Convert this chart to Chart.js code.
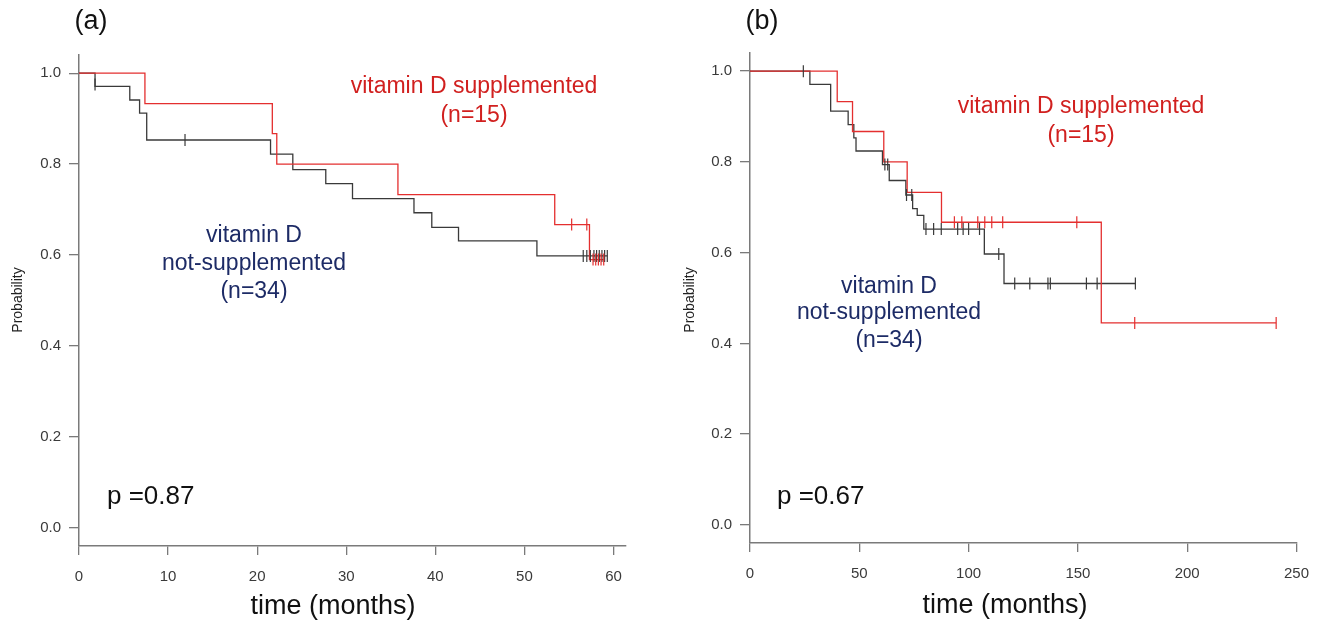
<!DOCTYPE html>
<html>
<head>
<meta charset="utf-8">
<script src="https://cdn.jsdelivr.net/npm/chart.js@4/dist/chart.umd.min.js"></script>
<style>
  html, body { margin: 0; padding: 0; background: #ffffff; }
  body { width: 1322px; height: 626px; position: relative; overflow: hidden; }
  .panel { position: absolute; top: 0; width: 661px; height: 626px; }
  #wrapA { left: 0; }
  #wrapB { left: 661px; }
</style>
</head>
<body>
<div class="panel" id="wrapA"><canvas id="chartA" width="661" height="626"></canvas></div>
<div class="panel" id="wrapB"><canvas id="chartB" width="661" height="626"></canvas></div>
<script>
// ---------- Panel (a) data ----------
const xTicksA = [0, 10, 20, 30, 40, 50, 60];
const yTicks = [0.0, 0.2, 0.4, 0.6, 0.8, 1.0];

const suppTimeA = [0, 7.4, 21.7, 22.2, 35.8, 53.4, 57.3, 58.9];
const suppProbA = [1.0, 0.933, 0.867, 0.800, 0.733, 0.667, 0.590, 0.590];
const suppCensTimeA = [55.3, 57.0, 57.7, 58.0, 58.3, 58.6, 58.9];
const suppCensProbA = [0.667, 0.667, 0.590, 0.590, 0.590, 0.590, 0.590];

const notTimeA = [0, 1.8, 5.7, 6.8, 7.6, 21.5, 24.0, 27.7, 30.7, 37.6, 39.6, 42.6, 51.4, 59.3];
const notProbA = [1.0, 0.971, 0.941, 0.912, 0.853, 0.822, 0.788, 0.757, 0.724, 0.693, 0.661, 0.631, 0.598, 0.598];
const notCensTimeA = [1.8, 11.9, 56.6, 57.0, 57.4, 57.8, 58.1, 58.4, 58.7, 59.0, 59.3];
const notCensProbA = [0.975, 0.853, 0.598, 0.598, 0.598, 0.598, 0.598, 0.598, 0.598, 0.598, 0.598];

// ---------- Panel (b) data ----------
const xTicksB = [0, 50, 100, 150, 200, 250];

const suppTimeB = [0, 39.9, 46.9, 61.2, 71.9, 87.6, 160.7, 240.7];
const suppProbB = [1.0, 0.933, 0.867, 0.800, 0.733, 0.667, 0.445, 0.445];
const suppCensTimeB = [93.5, 96.9, 104.2, 107.4, 110.6, 115.6, 149.5, 176.0, 240.7];
const suppCensProbB = [0.667, 0.667, 0.667, 0.667, 0.667, 0.667, 0.667, 0.445, 0.445];

const notTimeB = [0, 27.4, 36.9, 44.9, 47.5, 48.5, 60.6, 63.7, 71.3, 74.4, 76.5, 79.5, 107.2, 116.2, 176.3];
const notProbB = [1.0, 0.971, 0.912, 0.882, 0.853, 0.824, 0.794, 0.759, 0.727, 0.697, 0.682, 0.652, 0.597, 0.532, 0.532];
const notCensTimeB = [24.4, 61.7, 63.0, 71.6, 74.0, 80.5, 84.0, 87.5, 95.0, 97.5, 100.0, 105.0, 113.8, 121.1, 128.0, 136.3, 137.4, 153.9, 158.8, 176.3];
const notCensProbB = [1.0, 0.794, 0.794, 0.727, 0.727, 0.652, 0.652, 0.652, 0.652, 0.652, 0.652, 0.652, 0.597, 0.532, 0.532, 0.532, 0.532, 0.532, 0.532, 0.532];

// ---------- Text ----------
const pValueA = 'p =0.87';
const pValueB = 'p =0.67';
const suppLabel = ['vitamin D supplemented', '(n=15)'];
const notLabel = ['vitamin D', 'not-supplemented', '(n=34)'];

// ---------- Styling ----------
const RED = '#e42f2f';
const BLACK = '#3a3a3a';
const RED_TXT = '#d1201f';
const NAVY_TXT = '#1d2b66';
const AXIS = '#7a7a7a';
const FONT = '"Liberation Sans", Arial, Helvetica, sans-serif';

function pts(t, s) { return t.map((x, i) => ({ x: x, y: s[i] })); }

function stepDs(t, s, color) {
  return { data: pts(t, s), showLine: true, stepped: 'before', borderColor: color,
           borderWidth: 1.3, pointRadius: 0, fill: false, order: 2 };
}
function censDs(t, s, color) {
  return { data: pts(t, s), showLine: false, pointStyle: 'line', rotation: 90,
           pointRadius: 6, borderColor: color, backgroundColor: color, borderWidth: 1.2, order: 1 };
}

function textPlugin(texts) {
  return {
    id: 'texts',
    afterDraw(chart) {
      const ctx = chart.ctx;
      ctx.save();
      texts.forEach(tx => {
        ctx.save();
        ctx.font = tx.size + 'px ' + FONT;
        ctx.fillStyle = tx.color;
        ctx.textAlign = tx.align || 'center';
        ctx.textBaseline = 'middle';
        ctx.translate(tx.x, tx.y);
        if (tx.rot) ctx.rotate(tx.rot);
        ctx.fillText(tx.text, 0, 0);
        ctx.restore();
      });
      ctx.restore();
    }
  };
}

function makeChart(id, cfg) {
  return new Chart(document.getElementById(id), {
    type: 'scatter',
    data: { datasets: cfg.datasets },
    options: {
      responsive: false,
      animation: false,
      events: [],
      layout: { padding: { top: cfg.padTop, right: cfg.padRight, left: 0, bottom: 0 } },
      plugins: { legend: { display: false }, tooltip: { enabled: false }, title: { display: false } },
      scales: {
        x: {
          type: 'linear', min: 0, max: cfg.xMax,
          afterBuildTicks: sc => { sc.ticks = cfg.xTicks.map(v => ({ value: v })); },
          afterFit: sc => { sc.height = cfg.xAxisHeight; },
          border: { display: true, color: AXIS, width: 1.5 },
          grid: { display: true, drawOnChartArea: false, drawTicks: true, tickLength: 9, color: AXIS, lineWidth: 1.3 },
          ticks: { color: '#3a3a3a', font: { size: 15, family: FONT }, padding: 13, maxRotation: 0,
                   callback: v => String(v) }
        },
        y: {
          type: 'linear', min: -0.04, max: 1.04,
          afterBuildTicks: sc => { sc.ticks = yTicks.map(v => ({ value: v })); },
          afterFit: sc => { sc.width = cfg.yAxisWidth; },
          border: { display: true, color: AXIS, width: 1.5 },
          grid: { display: true, drawOnChartArea: false, drawTicks: true, tickLength: 10, color: AXIS, lineWidth: 1.3 },
          ticks: { color: '#3a3a3a', font: { size: 15, family: FONT }, padding: 8,
                   callback: v => Number(v).toFixed(1) }
        }
      }
    },
    plugins: [textPlugin(cfg.texts)]
  });
}

makeChart('chartA', {
  datasets: [
    stepDs(suppTimeA, suppProbA, RED),
    stepDs(notTimeA, notProbA, BLACK),
    censDs(suppCensTimeA, suppCensProbA, RED),
    censDs(notCensTimeA, notCensProbA, BLACK)
  ],
  xMax: 61.4, xTicks: xTicksA,
  padTop: 55, padRight: 35, xAxisHeight: 80, yAxisWidth: 79,
  texts: [
    { text: '(a)', x: 91, y: 22, size: 27, color: '#111' },
    { text: suppLabel[0], x: 474, y: 87, size: 23, color: RED_TXT },
    { text: suppLabel[1], x: 474, y: 116, size: 23, color: RED_TXT },
    { text: notLabel[0], x: 254, y: 236, size: 23, color: NAVY_TXT },
    { text: notLabel[1], x: 254, y: 264, size: 23, color: NAVY_TXT },
    { text: notLabel[2], x: 254, y: 292, size: 23, color: NAVY_TXT },
    { text: pValueA, x: 107, y: 497, size: 26, color: '#111', align: 'left' },
    { text: 'time (months)', x: 333, y: 607, size: 27, color: '#111' },
    { text: 'Probability', x: 18, y: 300, size: 14, color: '#222', rot: -Math.PI / 2 }
  ]
});

makeChart('chartB', {
  datasets: [
    stepDs(suppTimeB, suppProbB, RED),
    stepDs(notTimeB, notProbB, BLACK),
    censDs(suppCensTimeB, suppCensProbB, RED),
    censDs(notCensTimeB, notCensProbB, BLACK)
  ],
  xMax: 250, xTicks: xTicksB,
  padTop: 53, padRight: 25, xAxisHeight: 83, yAxisWidth: 89,
  texts: [
    { text: '(b)', x: 101, y: 22, size: 27, color: '#111' },
    { text: suppLabel[0], x: 420, y: 107, size: 23, color: RED_TXT },
    { text: suppLabel[1], x: 420, y: 136, size: 23, color: RED_TXT },
    { text: notLabel[0], x: 228, y: 287, size: 23, color: NAVY_TXT },
    { text: notLabel[1], x: 228, y: 313, size: 23, color: NAVY_TXT },
    { text: notLabel[2], x: 228, y: 341, size: 23, color: NAVY_TXT },
    { text: pValueB, x: 116, y: 497, size: 26, color: '#111', align: 'left' },
    { text: 'time (months)', x: 344, y: 606, size: 27, color: '#111' },
    { text: 'Probability', x: 29, y: 300, size: 14, color: '#222', rot: -Math.PI / 2 }
  ]
});
</script>
</body>
</html>
